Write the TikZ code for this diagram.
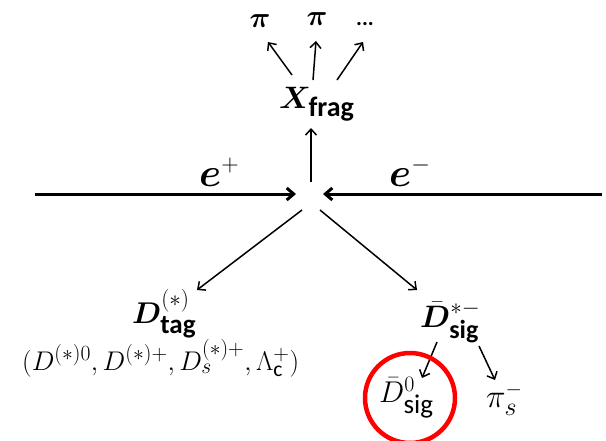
\RequirePackage{fix-cm}
\documentclass[tikz,border=0pt]{standalone}
\usepackage{amsmath,bm}
\usepackage{fontspec}
\setmainfont{Carlito}
\usetikzlibrary{arrows.meta}
\renewcommand{\defaultscriptratio}{.8}
\tikzset{
  ar/.style={-{Straight Barb[length=6pt,width=11pt]}, line width=1.5pt},
  beam/.style={-{Straight Barb[length=7pt,width=12pt]}, line width=3pt},
  lbl/.style={inner sep=0pt, anchor=base west},
  ctr/.style={inner sep=0pt, anchor=base},
}
\newcommand{\fs}[1]{\fontsize{#1}{#1}\selectfont}
\newcommand{\mscr}[2]{\mbox{\fs{#1}$#2$}}
\newcommand{\tscr}[2]{\mbox{\fs{#1}\bfseries #2}}
\begin{document}
\begin{tikzpicture}[x=1pt,y=-1pt]
\useasboundingbox (0,0) rectangle (606,440);

% labels
\node[ctr,font=\fs{29}] (pi1) at (260,27) {$\bm{\pi}$};
\node[ctr,font=\fs{29}] (pi2) at (317,25) {$\bm{\pi}$};
\node[ctr,font=\fs{22}\bfseries] (dots) at (365,25) {...};
\node[lbl,font=\fs{31}] (X) at (279,108) {$\bm{X}_{\tscr{28}{frag}}$};
\node[lbl,font=\fs{40}] (ep) at (199,186) {$\bm{e}^{\mscr{24}{+}}$};
\node[lbl,font=\fs{40}] (em) at (389,186) {$\bm{e}^{\mscr{24}{-}}$};
\node[lbl,font=\fs{30}] (Dtag) at (132,323) {$\bm{D}^{\mscr{23}{(*)}}_{\tscr{27}{tag}}$};
\node[lbl,font=\fs{27}] (modes) at (22,370) {$(D^{(*)0}, D^{(*)+}, D_s^{(*)+}, \Lambda_{\text{c}}^{+})$};
\node[lbl,font=\fs{31}] (Dsig) at (420,327) {$\bm{\bar{D}}^{\mscr{23}{*-}}_{\tscr{26}{sig}}$};
\node[lbl,font=\fs{30}] (D0) at (379,402) {$\bar{D}^{\mscr{22}{0}}_{\mbox{\fs{27}sig}}$};
\node[lbl,font=\fs{33}] (pis) at (486,407) {$\pi_{\mscr{26}{s}}^{\mscr{21}{-}}$};

% connector end points
\coordinate (ipU) at (311,182);
\coordinate (ipL) at (296,194);
\coordinate (ipR) at (323,194);
\coordinate (ipDL) at (302,210);
\coordinate (ipDR) at (320,210);
\coordinate (beamL) at (35,194);
\coordinate (beamR) at (602,194);
\coordinate (Xin) at (311,128);
\coordinate (X1) at (292,75);
\coordinate (X2) at (313,80);
\coordinate (X3) at (337,80);
\coordinate (pi1in) at (268,42);
\coordinate (pi2in) at (316,41);
\coordinate (dotsin) at (363,42);
\coordinate (Dtagin) at (197,290);
\coordinate (Dsigin) at (417,290);
\coordinate (Dsig1) at (437,342);
\coordinate (Dsig2) at (479,346);
\coordinate (D0in) at (422,378);
\coordinate (pisin) at (495,380);

% connectors
\draw[beam] (beamL) -- (ipL);
\draw[beam] (beamR) -- (ipR);
\draw[ar] (ipU) -- (Xin);
\draw[ar] (X1) -- (pi1in);
\draw[ar] (X2) -- (pi2in);
\draw[ar] (X3) -- (dotsin);
\draw[ar] (ipDL) -- (Dtagin);
\draw[ar] (ipDR) -- (Dsigin);
\draw[ar] (Dsig1) -- (D0in);
\draw[ar] (Dsig2) -- (pisin);

% highlight
\draw[red, line width=4.5pt] (410,398) circle[radius=45];
\end{tikzpicture}
\end{document}
